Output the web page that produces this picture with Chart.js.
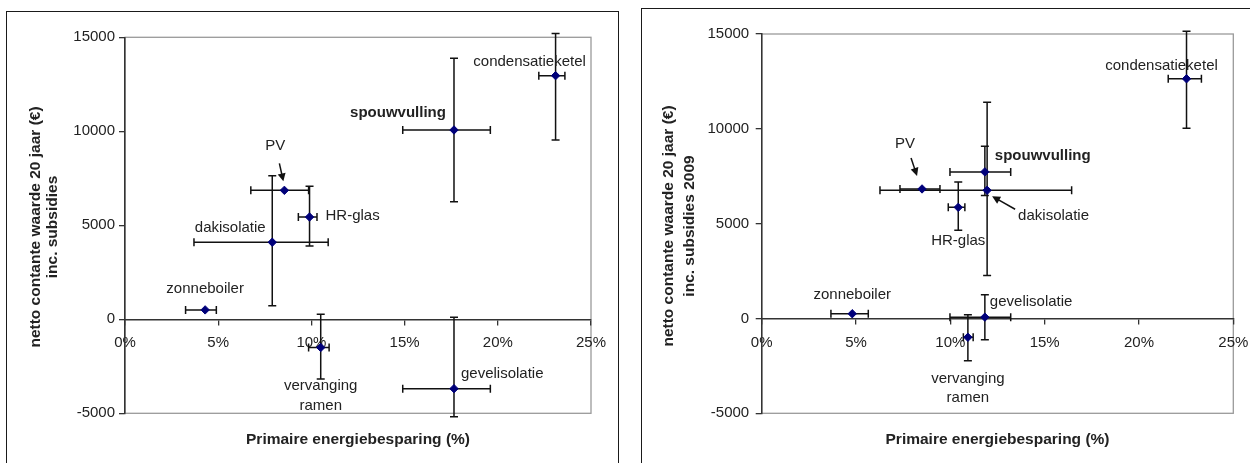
<!DOCTYPE html>
<html><head><meta charset="utf-8">
<script src="https://cdn.jsdelivr.net/npm/chart.js@4"></script>
<style>
html,body{margin:0;padding:0;background:#fff;width:1250px;height:463px;overflow:hidden;position:relative}
canvas{position:absolute;top:0}
#c1{left:0}
#c2{left:625px}
.frame{position:absolute;border:1.5px solid #1a1a1a;pointer-events:none;box-sizing:border-box}
</style></head><body>
<canvas id="c1" width="625" height="463"></canvas>
<canvas id="c2" width="625" height="463"></canvas>
<div class="frame" style="left:6px;top:11px;width:613px;height:480px"></div>
<div class="frame" style="left:641px;top:8px;width:640px;height:480px"></div>
<script>
// ---------- data ----------
const measures = ['zonneboiler','dakisolatie','PV','HR-glas','spouwvulling','condensatieketel','vervanging ramen','gevelisolatie'];
const measureLines = [['zonneboiler'],['dakisolatie'],['PV'],['HR-glas'],['spouwvulling'],['condensatieketel'],['vervanging','ramen'],['gevelisolatie']];
const xTickValues = [0,5,10,15,20,25];          // %
const yTickValues = [-5000,0,5000,10000,15000]; // €
const xAxisTitle = 'Primaire energiebesparing (%)';
const leftYTitle = ['netto contante waarde 20 jaar (€)','inc. subsidies'];
const rightYTitle = ['netto contante waarde 20 jaar (€)','inc. subsidies 2009'];

// left chart
const leftSaving      = [4.3, 7.9, 8.55, 9.9, 17.65, 23.1, 10.5, 17.65];
const leftValue       = [500, 4100, 6860, 5440, 10070, 12960, -1500, -3690];
const leftSavingLow   = [3.25, 3.7, 6.75, 9.3, 14.9, 22.2, 9.85, 14.9];
const leftSavingHigh  = [4.9, 10.9, 9.85, 10.3, 19.6, 23.6, 10.95, 19.6];
const leftValueLow    = [null, 720, null, 3900, 6250, 9540, -3180, -5180];
const leftValueHigh   = [null, 7630, null, 7080, 13880, 15200, 270, 110];

// right chart (subsidies 2009)
const rightSaving     = [4.8, 11.95, 8.5, 10.42, 11.83, 22.52, 10.93, 11.83];
const rightValue      = [250, 6760, 6830, 5860, 7730, 12640, -990, 70];
const rightSavingLow  = [3.67, 6.27, 7.33, 9.89, 9.98, 21.55, 10.69, 9.98];
const rightSavingHigh = [5.65, 16.43, 9.45, 10.77, 13.2, 23.31, 11.21, 13.2];
const rightValueLow   = [null, 2270, null, 4650, 6490, 10030, -2230, -1125];
const rightValueHigh  = [null, 11400, null, 7190, 9080, 15150, 195, 1250];

// ---------- layout (pixel offsets of annotations relative to their point) ----------
const leftLabelPos = [
  {dx:0, dy:-21, align:'center'}, {dx:-42, dy:-14, align:'center'}, {dx:-9, dy:-44, align:'center'},
  {dx:16, dy:-1, align:'left'}, {dx:-56, dy:-17, align:'center', bold:true}, {dx:-26, dy:-14, align:'center'},
  {dx:0, dy:38.5, align:'center'}, {dx:7, dy:-15, align:'left'}
];
const rightLabelPos = [
  {dx:0, dy:-19, align:'center'}, {dx:31, dy:26, align:'left'}, {dx:-17, dy:-45, align:'center'},
  {dx:0, dy:34, align:'center'}, {dx:10, dy:-16, align:'left', bold:true}, {dx:-25, dy:-13, align:'center'},
  {dx:0, dy:41.5, align:'center'}, {dx:5, dy:-15, align:'left'}
];
const leftArrows  = [{i:2, tail:[-5,-27], tip:[-1,-9]}];
const rightArrows = [{i:2, tail:[-11,-31], tip:[-5,-13]}, {i:1, tail:[28,19], tip:[5,6]}];

const FONT = '"Liberation Sans", Arial, sans-serif';
const TEXT = '#222';
Chart.defaults.font.family = FONT;
Chart.defaults.font.size = 15;
Chart.defaults.color = TEXT;

function makeChart(id, d) {
  const plugin = {
    id: 'extras' + id,
    beforeDraw(chart) {
      const {ctx, chartArea: a} = chart;
      ctx.save();
      ctx.strokeStyle = '#9a9a9a'; ctx.lineWidth = 1.3;
      ctx.strokeRect(a.left, a.top, a.right - a.left, a.bottom - a.top);
      ctx.restore();
    },
    beforeDatasetsDraw(chart) {
      const {ctx} = chart, xs = chart.scales.x, ys = chart.scales.y;
      ctx.save();
      ctx.strokeStyle = '#111'; ctx.lineWidth = 1.5;
      const cap = 4;
      for (let i = 0; i < d.x.length; i++) {
        const px = xs.getPixelForValue(d.x[i]), py = ys.getPixelForValue(d.y[i]);
        ctx.beginPath();
        if (d.xLow[i] != null) {
          const a = xs.getPixelForValue(d.xLow[i]), b = xs.getPixelForValue(d.xHigh[i]);
          ctx.moveTo(a, py); ctx.lineTo(b, py);
          ctx.moveTo(a, py - cap); ctx.lineTo(a, py + cap);
          ctx.moveTo(b, py - cap); ctx.lineTo(b, py + cap);
        }
        if (d.yLow[i] != null) {
          const a = ys.getPixelForValue(d.yLow[i]), b = ys.getPixelForValue(d.yHigh[i]);
          ctx.moveTo(px, a); ctx.lineTo(px, b);
          ctx.moveTo(px - cap, a); ctx.lineTo(px + cap, a);
          ctx.moveTo(px - cap, b); ctx.lineTo(px + cap, b);
        }
        ctx.stroke();
      }
      ctx.restore();
    },
    afterDatasetsDraw(chart) {
      const {ctx, chartArea: ca} = chart, xs = chart.scales.x, ys = chart.scales.y;
      ctx.save();
      ctx.fillStyle = TEXT;
      ctx.textBaseline = 'middle';
      // point labels
      for (let i = 0; i < d.x.length; i++) {
        const px = xs.getPixelForValue(d.x[i]), py = ys.getPixelForValue(d.y[i]);
        const p = d.labelPos[i];
        ctx.font = (p.bold ? 'bold ' : '') + '15px ' + FONT;
        ctx.textAlign = p.align;
        measureLines[i].forEach((t, k) => ctx.fillText(t, px + p.dx, py + p.dy + k * 19.5));
      }
      // arrows
      ctx.strokeStyle = '#111'; ctx.fillStyle = '#111'; ctx.lineWidth = 1.5;
      d.arrows.forEach(ar => {
        const px = xs.getPixelForValue(d.x[ar.i]), py = ys.getPixelForValue(d.y[ar.i]);
        const x1 = px + ar.tail[0], y1 = py + ar.tail[1], x2 = px + ar.tip[0], y2 = py + ar.tip[1];
        const ang = Math.atan2(y2 - y1, x2 - x1), L = 8, W = 4;
        ctx.beginPath(); ctx.moveTo(x1, y1);
        ctx.lineTo(x2 - L * 0.8 * Math.cos(ang), y2 - L * 0.8 * Math.sin(ang)); ctx.stroke();
        ctx.beginPath(); ctx.moveTo(x2, y2);
        ctx.lineTo(x2 - L * Math.cos(ang) + W * Math.sin(ang), y2 - L * Math.sin(ang) - W * Math.cos(ang));
        ctx.lineTo(x2 - L * Math.cos(ang) - W * Math.sin(ang), y2 - L * Math.sin(ang) + W * Math.cos(ang));
        ctx.closePath(); ctx.fill();
      });
      // axis titles
      ctx.fillStyle = TEXT;
      ctx.font = 'bold 15.5px ' + FONT;
      ctx.textAlign = 'center';
      ctx.fillText(xAxisTitle, (ca.left + ca.right) / 2, d.xTitleY);
      d.yTitle.forEach((t, k) => {
        ctx.save();
        ctx.translate(d.yTitleX[k], d.yTitleY);
        ctx.rotate(-Math.PI / 2);
        ctx.fillText(t, 0, 0);
        ctx.restore();
      });
      ctx.restore();
    }
  };

  return new Chart(document.getElementById(id), {
    type: 'scatter',
    data: {
      datasets: [{
        data: d.x.map((v, i) => ({x: v, y: d.y[i]})),
        pointStyle: 'rectRot', pointRadius: 4.2,
        backgroundColor: '#00007a', borderColor: '#00007a', borderWidth: 1,
        clip: false
      }]
    },
    options: {
      responsive: false, animation: false, devicePixelRatio: 1,
      layout: {padding: d.padding},
      plugins: {legend: {display: false}, tooltip: {enabled: false}},
      scales: {
        x: {
          type: 'linear', position: {y: 0},
          min: xTickValues[0], max: xTickValues[xTickValues.length - 1],
          afterBuildTicks: s => { s.ticks = xTickValues.map(v => ({value: v})); },
          afterFit: s => { s.paddingLeft = 0; s.paddingRight = 0; },
          ticks: {callback: v => v + '%', padding: 10, color: TEXT, font: {size: 15}},
          grid: {drawOnChartArea: false, drawTicks: true, tickLength: 5, color: '#333', lineWidth: 1.3},
          border: {display: true, color: '#333', width: 1.5}
        },
        y: {
          type: 'linear', position: 'left',
          min: yTickValues[0], max: yTickValues[yTickValues.length - 1],
          afterBuildTicks: s => { s.ticks = yTickValues.map(v => ({value: v})); },
          afterFit: s => { s.width = d.yAxisWidth; s.paddingTop = 0; s.paddingBottom = 0; },
          ticks: {callback: v => String(v), padding: d.yTickPad, color: TEXT, font: {size: 15}},
          grid: {drawOnChartArea: false, drawTicks: true, tickLength: 6, color: '#333', lineWidth: 1.3},
          border: {display: true, color: '#333', width: 1.5}
        }
      }
    },
    plugins: [plugin]
  });
}

makeChart('c1', {
  x: leftSaving, y: leftValue, xLow: leftSavingLow, xHigh: leftSavingHigh, yLow: leftValueLow, yHigh: leftValueHigh,
  labelPos: leftLabelPos, arrows: leftArrows, yTitle: leftYTitle,
  padding: {left: 0, right: 34, top: 37.3, bottom: 49.7}, yAxisWidth: 125, yTickPad: 4,
  xTitleY: 440, yTitleX: [35.5, 53], yTitleY: 227
});
makeChart('c2', {
  x: rightSaving, y: rightValue, xLow: rightSavingLow, xHigh: rightSavingHigh, yLow: rightValueLow, yHigh: rightValueHigh,
  labelPos: rightLabelPos, arrows: rightArrows, yTitle: rightYTitle,
  padding: {left: 0, right: 16.7, top: 34, bottom: 49.7}, yAxisWidth: 136.7, yTickPad: 6.5,
  xTitleY: 440, yTitleX: [44, 65], yTitleY: 226
});
</script>
</body></html>
